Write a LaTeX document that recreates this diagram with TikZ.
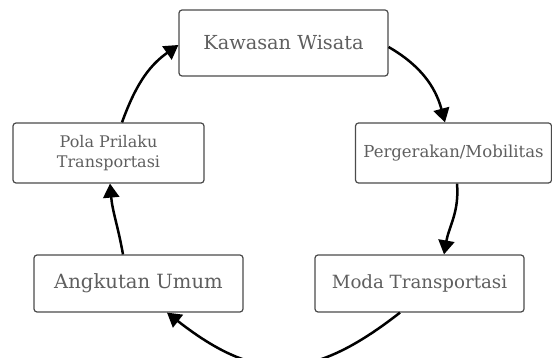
\documentclass[tikz,border=0pt]{standalone}
\usepackage{fontspec}
\setmainfont{DejaVu Serif}
\definecolor{abu}{RGB}{95, 95, 95}
\definecolor{garis}{RGB}{75, 75, 75}
\usetikzlibrary{arrows.meta}
\usetikzlibrary{positioning}

\begin{document}
\begin{tikzpicture}[x=1pt, y=-1pt,
    kotak/.style={draw=garis, line width=1.2pt, rounded corners=3pt, fill=white, text=abu, align=center, inner sep=0pt},
    panah/.style={-{Triangle[width=16pt, length=14pt]}, line width=2.5pt, black}]
    \useasboundingbox (0,0) rectangle (552,358);

    % Boxes of the cycle
    \node[kotak, minimum width=209pt, minimum height=66pt, font=\fontsize{19.3}{22}\selectfont] (kw) at (283.5,43) {Kawasan Wisata};
    \node[kotak, minimum width=196pt, minimum height=60pt, font=\fontsize{16.5}{19}\selectfont] (pg) at (453.5,153) {Pergerakan/Mobilitas};
    \node[kotak, minimum width=209pt, minimum height=57pt, font=\fontsize{18.2}{21}\selectfont] (md) at (419.5,283.5) {Moda Transportasi};
    \node[kotak, minimum width=209pt, minimum height=57pt, font=\fontsize{19.6}{22}\selectfont] (au) at (138.5,283.5) {Angkutan Umum};
    \node[kotak, minimum width=191pt, minimum height=60pt, font=\fontsize{16}{20}\selectfont] (pp) at (108.5,153) {Pola Prilaku\\Transportasi};

    % Arrows round the cycle
    \draw[panah] ([yshift=-4pt]kw.east) to[out=-30, in=105] ([xshift=-8.5pt]pg.north);
    \draw[panah] ([xshift=3.5pt]pg.south) to[out=-85, in=80] ([xshift=24.5pt]md.north);
    \draw[panah] ([xshift=-19.5pt]md.south) to[out=-142, in=-38, looseness=1.25] ([xshift=28.5pt]au.south);
    \draw[panah] ([xshift=-15.5pt]au.north) to[out=100, in=-85] ([xshift=1.5pt]pp.south);
    \draw[panah] ([xshift=13.5pt]pp.north) to[out=70, in=215] ([yshift=-2pt]kw.west);
\end{tikzpicture}
\end{document}
